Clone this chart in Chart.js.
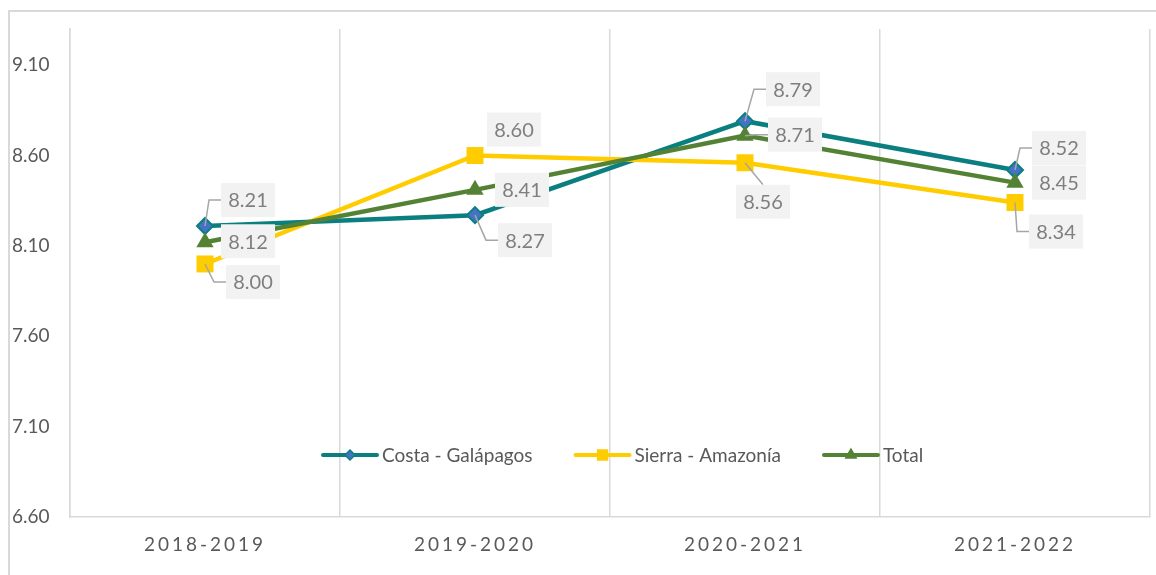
<!DOCTYPE html>
<html>
<head>
<meta charset="utf-8">
<script src="https://cdn.jsdelivr.net/npm/chart.js@4.4.1/dist/chart.umd.min.js"></script>
<style>
  html, body { margin: 0; padding: 0; background: #fff; }
  #wrap { position: relative; width: 1156px; height: 575px; }
  #frame { position: absolute; left: 8px; top: 10px; right: 0; bottom: 0; border-top: 2px solid #d9d9d9; border-left: 2px solid #d9d9d9; }
  canvas { position: absolute; left: 0; top: 0; }
</style>
</head>
<body>
<div id="wrap">
  <div id="frame"></div>
  <canvas id="myChart" width="1156" height="575"></canvas>
</div>
<script>
const categories = ["2018-2019", "2019-2020", "2020-2021", "2021-2022"];
const costaGalapagos = [8.21, 8.27, 8.79, 8.52];
const sierraAmazonia = [8.00, 8.60, 8.56, 8.34];
const total = [8.12, 8.41, 8.71, 8.45];
const yTickValues = [6.6, 7.1, 7.6, 8.1, 8.6, 9.1];

// label offset from its point (px) and whether a leader line is drawn
const labelPlacement = [
  [[43, -26, true], [50, 25, true], [48, -32, true], [44, -22, true]],
  [[48, 18, true], [39, -26, false], [18, 39, true], [41, 29, true]],
  [[43, -1, false], [47, 0, false], [50, -1, true], [44, 0, false]],
];

const FONT = "Lato, 'Open Sans', sans-serif";
const FONT_SIZE = 19;

// legend drawn inside the plot, like the original
const insideLegend = {
  id: "insideLegend",
  afterDatasetsDraw(chart) {
    const ctx = chart.ctx;
    const area = chart.chartArea;
    let x = area.left + 253;
    const y = area.top + 426;
    ctx.save();
    ctx.font = FONT_SIZE + "px " + FONT;
    ctx.textBaseline = "middle";
    ctx.textAlign = "left";
    chart.data.datasets.forEach((ds) => {
      ctx.strokeStyle = ds.borderColor;
      ctx.lineWidth = 4;
      ctx.lineCap = "round";
      ctx.beginPath();
      ctx.moveTo(x, y);
      ctx.lineTo(x + 54, y);
      ctx.stroke();
      ctx.fillStyle = ds.pointBackgroundColor;
      ctx.strokeStyle = ds.pointBorderColor;
      ctx.lineWidth = 1.5;
      Chart.helpers.drawPoint(ctx, { pointStyle: ds.pointStyle, radius: ds.legendRadius, borderWidth: 1.5, rotation: 0 }, x + 27, y);
      ctx.fillStyle = "#595959";
      ctx.fillText(ds.label, x + 59, y + 1);
      x += 59 + ctx.measureText(ds.label).width + 43;
    });
    ctx.restore();
  },
};

const valueLabels = {
  id: "valueLabels",
  afterDatasetsDraw(chart) {
    const ctx = chart.ctx;
    const w = 54, h = 34;
    ctx.save();
    const boxes = [];
    chart.data.datasets.forEach((ds, i) => {
      const meta = chart.getDatasetMeta(i);
      meta.data.forEach((pt, j) => {
        const [dx, dy, leader] = labelPlacement[i][j];
        const cx = pt.x + dx, cy = pt.y + dy;
        const left = cx - w / 2, top = cy - h / 2;
        if (leader) {
          ctx.strokeStyle = "#a6a6a6";
          ctx.lineWidth = 1.5;
          ctx.beginPath();
          ctx.moveTo(pt.x, pt.y);
          if (left > pt.x + 5) {
            ctx.lineTo(left - 12, cy);
            ctx.lineTo(left, cy);
          } else {
            ctx.lineTo(cx, dy > 0 ? top : top + h);
          }
          ctx.stroke();
        }
        boxes.push({ left, top, cx, cy, text: ds.data[j].toFixed(2) });
      });
    });
    boxes.forEach((b) => {
      ctx.fillStyle = "#f2f2f2";
      ctx.fillRect(b.left, b.top, w, h);
      ctx.fillStyle = "#7f7f7f";
      ctx.font = "20px " + FONT;
      ctx.textAlign = "center";
      ctx.textBaseline = "middle";
      ctx.fillText(b.text, b.cx, b.cy + 1);
    });
    ctx.restore();
  },
};

// x tick labels are drawn after the datasets (ticks z = 1), spaced out like Excel
const tickSpacing = {
  id: "tickSpacing",
  beforeDraw(chart) { chart.ctx.letterSpacing = "0px"; },
  afterDatasetsDraw(chart) { chart.ctx.letterSpacing = "3px"; },
  afterDraw(chart) { chart.ctx.letterSpacing = "0px"; },
};

const ctx = document.getElementById("myChart").getContext("2d");

const myChart = new Chart(ctx, {
  type: "line",
  data: {
    labels: categories,
    datasets: [
      {
        label: "Costa - Galápagos",
        data: costaGalapagos,
        borderColor: "#0b7f80",
        borderWidth: 4.5,
        pointStyle: "rectRot",
        pointRadius: 8,
        pointBackgroundColor: "#4472c4",
        pointBorderColor: "#0b7f80",
        pointBorderWidth: 2,
        legendRadius: 5,
        order: 3,
      },
      {
        label: "Sierra - Amazonía",
        data: sierraAmazonia,
        borderColor: "#ffcc00",
        borderWidth: 4.5,
        pointStyle: "rect",
        pointRadius: 12,
        pointBackgroundColor: "#ffcc00",
        pointBorderColor: "#ffcc00",
        pointBorderWidth: 0,
        legendRadius: 7,
        order: 2,
      },
      {
        label: "Total",
        data: total,
        borderColor: "#548235",
        borderWidth: 4.5,
        pointStyle: "triangle",
        pointRadius: 10,
        pointBackgroundColor: "#548235",
        pointBorderColor: "#548235",
        pointBorderWidth: 0,
        legendRadius: 6,
        order: 1,
      },
    ],
  },
  options: {
    responsive: false,
    animation: false,
    layout: { autoPadding: false, padding: { top: 29, left: 12, right: 6, bottom: 0 } },
    plugins: {
      legend: { display: false },
      tooltip: { enabled: false },
    },
    scales: {
      x: {
        offset: true,
        grid: { color: "#d9d9d9", lineWidth: 1.5, offset: true, drawTicks: false },
        border: { display: true, color: "#d9d9d9", width: 1.5 },
        ticks: {
          color: "#595959",
          font: { family: FONT, size: FONT_SIZE },
          padding: 16,
          z: 1,
        },
        afterFit: (scale) => { scale.height = 58; },
      },
      y: {
        min: 6.6,
        max: 9.3,
        grid: { display: false },
        border: { display: true, color: "#d9d9d9", width: 1.5 },
        afterBuildTicks: (scale) => {
          scale.ticks = yTickValues.map((v) => ({ value: v }));
        },
        ticks: {
          color: "#595959",
          font: { family: FONT, size: FONT_SIZE },
          crossAlign: "far",
          callback: (value) => Number(value).toFixed(2),
        },
        afterFit: (scale) => { scale.width = 58; },
      },
    },
  },
  plugins: [insideLegend, valueLabels, tickSpacing],
});
</script>
</body>
</html>
